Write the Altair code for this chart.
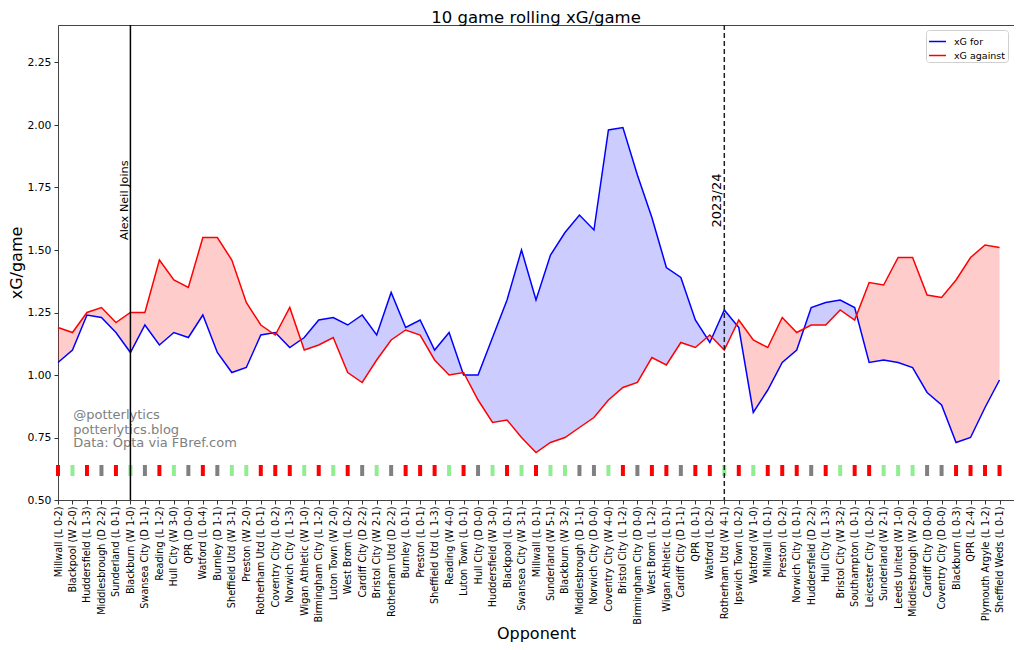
import altair as alt
import pandas as pd

labels = [
    "Millwall (L 0-2)", "Blackpool (W 2-0)", "Huddersfield (L 1-3)", "Middlesbrough (D 2-2)",
    "Sunderland (L 0-1)", "Blackburn (W 1-0)", "Swansea City (D 1-1)", "Reading (L 1-2)",
    "Hull City (W 3-0)", "QPR (D 0-0)", "Watford (L 0-4)", "Burnley (D 1-1)",
    "Sheffield Utd (W 3-1)", "Preston (W 2-0)", "Rotherham Utd (L 0-1)", "Coventry City (L 0-2)",
    "Norwich City (L 1-3)", "Wigan Athletic (W 1-0)", "Birmingham City (L 1-2)", "Luton Town (W 2-0)",
    "West Brom (L 0-2)", "Cardiff City (D 2-2)", "Bristol City (W 2-1)", "Rotherham Utd (D 2-2)",
    "Burnley (L 0-1)", "Preston (L 0-1)", "Sheffield Utd (L 1-3)", "Reading (W 4-0)",
    "Luton Town (L 0-1)", "Hull City (D 0-0)", "Huddersfield (W 3-0)", "Blackpool (L 0-1)",
    "Swansea City (W 3-1)", "Millwall (L 0-1)", "Sunderland (W 5-1)", "Blackburn (W 3-2)",
    "Middlesbrough (D 1-1)", "Norwich City (D 0-0)", "Coventry City (W 4-0)", "Bristol City (L 1-2)",
    "Birmingham City (D 0-0)", "West Brom (L 1-2)", "Wigan Athletic (L 0-1)", "Cardiff City (D 1-1)",
    "QPR (L 0-1)", "Watford (L 0-2)", "Rotherham Utd (W 4-1)", "Ipswich Town (L 0-2)",
    "Watford (W 1-0)", "Millwall (L 0-1)", "Preston (L 0-2)", "Norwich City (L 0-1)",
    "Huddersfield (D 2-2)", "Hull City (L 1-3)", "Bristol City (W 3-2)", "Southampton (L 0-1)",
    "Leicester City (L 0-2)", "Sunderland (W 2-1)", "Leeds United (W 1-0)", "Middlesbrough (W 2-0)",
    "Cardiff City (D 0-0)", "Coventry City (D 0-0)", "Blackburn (L 0-3)", "QPR (L 2-4)",
    "Plymouth Argyle (L 1-2)", "Sheffield Weds (L 0-1)",
]

xg_for = [
    1.05, 1.10, 1.24, 1.23, 1.17, 1.09, 1.20, 1.12, 1.17, 1.15,
    1.24, 1.09, 1.01, 1.03, 1.16, 1.17, 1.11, 1.15, 1.22, 1.23,
    1.20, 1.24, 1.16, 1.33, 1.19, 1.22, 1.10, 1.17, 1.00, 1.00,
    1.15, 1.30, 1.50, 1.30, 1.48, 1.57, 1.64, 1.58, 1.98, 1.99,
    1.80, 1.63, 1.43, 1.39, 1.22, 1.13, 1.26, 1.19, 0.85, 0.94,
    1.05, 1.10, 1.27, 1.29, 1.30, 1.27, 1.05, 1.06, 1.05, 1.03,
    0.93, 0.88, 0.73, 0.75, 0.87, 0.98,
]

xg_against = [
    1.19, 1.17, 1.25, 1.27, 1.21, 1.25, 1.25, 1.46, 1.38, 1.35,
    1.55, 1.55, 1.46, 1.29, 1.20, 1.16, 1.27, 1.10, 1.12, 1.15,
    1.01, 0.97, 1.06, 1.14, 1.18, 1.16, 1.06, 1.00, 1.01, 0.90,
    0.81, 0.82, 0.75, 0.69, 0.73, 0.75, 0.79, 0.83, 0.90, 0.95,
    0.97, 1.07, 1.04, 1.13, 1.11, 1.16, 1.10, 1.22, 1.14, 1.11,
    1.23, 1.17, 1.20, 1.20, 1.26, 1.22, 1.37, 1.36, 1.47, 1.47,
    1.32, 1.31, 1.38, 1.47, 1.52, 1.51,
]

series_names = ["xG for", "xG against"]
event_names = ["Alex Neil Joins", "2023/24"]
event_index = [5, 46]
event_text_y = [1.54, 1.59]
watermark_lines = ["@potterlytics", "potterlytics.blog", "Data: Opta via FBref.com"]
watermark_y = [0.84, 0.782, 0.728]
watermark_x = 1.05
result_marker_y = 0.618

FONT = "DejaVu Sans"
n = len(labels)

# ---- tables built from the arrays ----
lines_df = pd.DataFrame({
    "x": list(range(n)) * 2,
    "value": xg_for + xg_against,
    "series": [series_names[0]] * n + [series_names[1]] * n,
})

fx, ff, fa = [], [], []
for i in range(n):
    f, a = xg_for[i], xg_against[i]
    fx.append(i); ff.append(f); fa.append(a)
    if i < n - 1:
        d0 = f - a
        d1 = xg_for[i + 1] - xg_against[i + 1]
        if d0 * d1 < 0:
            t = d0 / (d0 - d1)
            v = f + t * (xg_for[i + 1] - f)
            fx.append(i + t); ff.append(v); fa.append(v)
fill_df = pd.DataFrame({"x": fx, "xg_for": ff, "xg_against": fa})
fill_df["top"] = fill_df[["xg_for", "xg_against"]].max(axis=1)

result_colors = {"W": "#90ee90", "D": "#808080", "L": "#ff0000"}
results = [lab.split("(")[-1][0] for lab in labels]
res_df = pd.DataFrame({
    "x": list(range(n)),
    "y": [result_marker_y] * n,
    "colour": [result_colors[r] for r in results],
})

ev_df = pd.DataFrame({"x": event_index, "y": event_text_y, "text": event_names})
wm_df = pd.DataFrame({"x": [watermark_x] * 3, "y": watermark_y, "text": watermark_lines})

# ---- scales / axes ----
label_expr = "[" + ",".join("'" + l + "'" for l in labels) + "][datum.value]"

x_scale = alt.Scale(domain=[0, 66], nice=False, zero=False)
y_scale = alt.Scale(domain=[0.5, 2.4], nice=False, zero=False)

x_axis = alt.Axis(
    values=list(range(n)), labelExpr=label_expr, labelAngle=270,
    labelFontSize=9.7, labelFont=FONT, labelColor="black", labelPadding=2,
    labelOverlap=False, labelFlush=False, labelBound=False,
    tickSize=4, tickColor="#333", grid=False, domain=False,
    title="Opponent", titleFontSize=16, titleFont=FONT, titleFontWeight="normal",
    titleColor="black", titleY=138, titleBaseline="alphabetic",
)
y_axis = alt.Axis(
    values=[0.5, 0.75, 1.0, 1.25, 1.5, 1.75, 2.0, 2.25], format=".2f",
    labelFontSize=10.8, labelFont=FONT, labelColor="black", labelPadding=3,
    tickSize=4, tickColor="#333", grid=False, domain=False,
    title="xG/game", titleFontSize=16, titleFont=FONT, titleFontWeight="normal",
    titleColor="black", titlePadding=2,
)

def X(field="x"):
    return alt.X(f"{field}:Q", scale=x_scale, axis=x_axis)

base_fill = alt.Chart(fill_df)
blue_fill = base_fill.mark_area(color="blue", opacity=0.2).encode(
    x=X(), y=alt.Y("top:Q", scale=y_scale, axis=y_axis), y2="xg_against:Q"
)
red_fill = base_fill.mark_area(color="red", opacity=0.2).encode(
    x=X(), y=alt.Y("top:Q", scale=y_scale, axis=y_axis), y2="xg_for:Q"
)

lines = alt.Chart(lines_df).mark_line(strokeWidth=1.5).encode(
    x=X(),
    y=alt.Y("value:Q", scale=y_scale, axis=y_axis),
    color=alt.Color(
        "series:N",
        scale=alt.Scale(domain=series_names, range=["#0000ff", "#ff0000"]),
        sort=series_names,
        legend=alt.Legend(
            title=None, orient="none", legendX=868, legendY=5,
            symbolType="stroke", symbolSize=289, symbolStrokeWidth=1.5,
            labelFontSize=9.5, labelFont=FONT, labelColor="black",
            padding=2, rowPadding=-4, labelOffset=7,
            strokeColor="#d0d0d0", fillColor="white", cornerRadius=3,
        ),
    ),
)

ev_solid = alt.Chart(ev_df.iloc[[0]]).mark_rule(color="black", strokeWidth=1.5).encode(x=X())
ev_dash = alt.Chart(ev_df.iloc[[1]]).mark_rule(
    color="#222", strokeWidth=1.5, strokeDash=[5, 3]
).encode(x=X())

ev_text1 = alt.Chart(ev_df.iloc[[0]]).mark_text(
    angle=270, align="left", baseline="bottom", fontSize=11.3, font=FONT, color="black"
).encode(x=X(), y=alt.Y("y:Q", scale=y_scale, axis=y_axis), text="text:N")
ev_text2 = alt.Chart(ev_df.iloc[[1]]).mark_text(
    angle=270, align="left", baseline="bottom", fontSize=13, font=FONT, color="black"
).encode(x=X(), y=alt.Y("y:Q", scale=y_scale, axis=y_axis), text="text:N")

markers = alt.Chart(res_df).mark_tick(orient="vertical", thickness=4, size=11, opacity=1).encode(
    x=X(), y=alt.Y("y:Q", scale=y_scale, axis=y_axis),
    color=alt.Color("colour:N", scale=None),
)

watermark = alt.Chart(wm_df).mark_text(
    align="left", baseline="middle", fontSize=13, font=FONT, color="#808080"
).encode(x=X(), y=alt.Y("y:Q", scale=y_scale, axis=y_axis), text="text:N")

chart = alt.layer(
    blue_fill, red_fill, watermark, lines, markers, ev_solid, ev_dash, ev_text1, ev_text2
).properties(
    width=956, height=475,
    title=alt.Title("10 game rolling xG/game", fontSize=16.5, font=FONT, fontWeight="normal",
                    color="black", offset=-2),
    padding={"left": 50, "top": 17, "right": 0, "bottom": 142},
    autosize=alt.AutoSizeParams(type="none"),
).configure_view(stroke="#444", strokeWidth=1)

chart.save("out.html", embed_options={"renderer": "svg", "actions": False})
